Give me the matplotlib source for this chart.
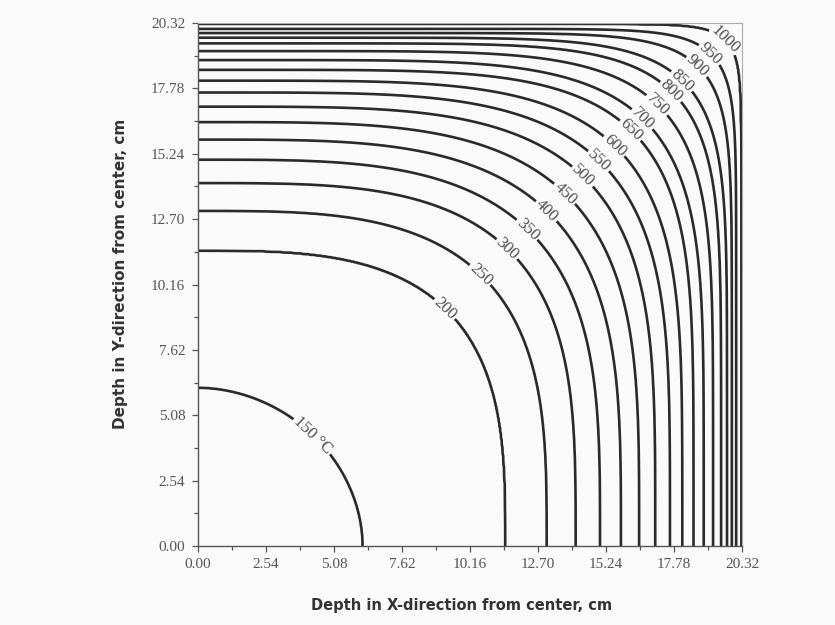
import numpy as np
import matplotlib
matplotlib.use("Agg")
import matplotlib.pyplot as plt
from matplotlib.ticker import FixedLocator

# ---- data ----
levels = [150, 200, 250, 300, 350, 400, 450, 500, 550, 600,
          650, 700, 750, 800, 850, 900, 950, 1000]
# where each isotherm meets the axes (cm from center)
axis_cross = [6.15, 11.48, 13.02, 14.10, 15.01, 15.79, 16.47, 17.07, 17.62, 18.08,
              18.50, 18.88, 19.23, 19.53, 19.75, 19.93, 20.09, 20.27]
# where each isotherm crosses the diagonal x = y (cm)
diag_cross = [4.30, 9.23, 10.55, 11.55, 12.30, 13.02, 13.70, 14.37, 14.97, 15.55,
              16.16, 16.60, 17.15, 17.67, 18.08, 18.65, 19.13, 19.67]
tick_vals = [0.00, 2.54, 5.08, 7.62, 10.16, 12.70, 15.24, 17.78, 20.32]
tick_labels = ["0.00", "2.54", "5.08", "7.62", "10.16", "12.70", "15.24", "17.78", "20.32"]
label_texts = {150: "150 °C"}

# ---- build a temperature field whose isotherms follow the read curves ----
L = np.array(levels, float)
A = np.array(axis_cross, float)
D = np.array(diag_cross, float)
P = np.log(2.0) / np.log(A / D)          # superellipse exponent per isotherm

n = 700
xs = np.linspace(0, 20.32, n)
X, Y = np.meshgrid(xs, xs)
S = np.empty((len(L),) + X.shape)
for k in range(len(L)):
    S[k] = ((X / A[k]) ** P[k] + (Y / A[k]) ** P[k]) ** (1.0 / P[k])
G = S - 1.0
cnt = (G > 0).sum(axis=0)
T = np.empty(X.shape)
inner = cnt == 0
outer = cnt == len(L)
mid = ~(inner | outer)
idx = np.clip(cnt, 1, len(L) - 1)
g0 = np.take_along_axis(G, (idx - 1)[None], 0)[0]
g1 = np.take_along_axis(G, idx[None], 0)[0]
l0 = L[idx - 1]
T[mid] = (l0 + 50.0 * g0 / (g0 - g1))[mid]
T[inner] = (L[0] + 50.0 * G[0])[inner]
T[outer] = (L[-1] + 50.0 * G[-1] * 10)[outer]

# ---- figure ----
plt.rcParams['font.family'] = ['Liberation Serif', 'DejaVu Serif']
bg = '#fafafa'
fig = plt.figure(figsize=(8.35, 6.25), dpi=100, facecolor=bg)
ax = fig.add_axes([0.237, 0.1264, 0.652, 0.8368], facecolor=bg)

cs = ax.contour(X, Y, T, levels=levels, colors='#2a2a2a', linewidths=1.9)
fmt = {lv: label_texts.get(lv, str(lv)) for lv in levels}
manual = [(d, d) for d in diag_cross]
lbls = ax.clabel(cs, levels=levels, fmt=fmt, fontsize=12, inline=True,
                 inline_spacing=2, manual=manual, colors='#4d4d4d')

ax.set_xlim(0, 20.32)
ax.set_ylim(0, 20.32)
ax.xaxis.set_major_locator(FixedLocator(tick_vals))
ax.yaxis.set_major_locator(FixedLocator(tick_vals))
ax.set_xticklabels(tick_labels)
ax.set_yticklabels(tick_labels)
minor = [v + 1.27 for v in tick_vals[:-1]]
ax.xaxis.set_minor_locator(FixedLocator(minor))
ax.yaxis.set_minor_locator(FixedLocator(minor))
ax.tick_params(axis='both', which='major', direction='out', length=4, width=0.9,
               color='#555555', labelsize=11, labelcolor='#555555', pad=5)
ax.tick_params(axis='both', which='minor', direction='out', length=3, width=0.9,
               color='#555555')
for s in ['left', 'bottom']:
    ax.spines[s].set_color('#555555')
    ax.spines[s].set_linewidth(1.0)
for s in ['top', 'right']:
    ax.spines[s].set_color('#aaaaaa')
    ax.spines[s].set_linewidth(0.8)

ax.set_xlabel("Depth in X-direction from center, cm", family=['DejaVu Sans'],
              fontweight='bold', fontsize=10.5, color='#333333')
ax.set_ylabel("Depth in Y-direction from center, cm", family=['DejaVu Sans'],
              fontweight='bold', fontsize=11, color='#333333')
ax.xaxis.set_label_coords(0.485, -0.100)
ax.yaxis.set_label_coords(-0.128, 0.52)

fig.savefig("out.png", dpi=100, facecolor=bg)
